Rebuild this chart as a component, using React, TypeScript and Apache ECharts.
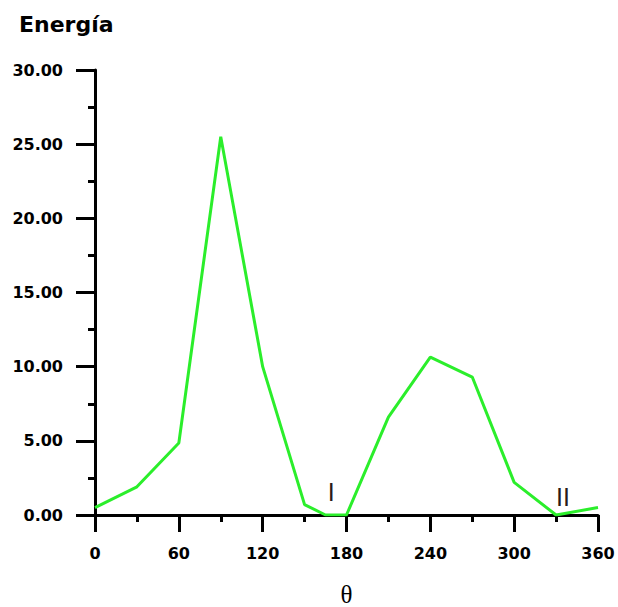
import React, { useEffect, useRef } from "react";
import * as echarts from "echarts";

const angles = [0, 30, 60, 90, 120, 150, 165, 180, 210, 240, 270, 300, 330, 360];
const energies = [0.5, 1.9, 4.85, 25.5, 10.0, 0.7, 0, 0, 6.6, 10.65, 9.3, 2.2, 0, 0.5];
const pointLabels = [
  { text: "I", x: 169, y: 1.55 },
  { text: "II", x: 335, y: 1.2 },
];

export default function App() {
  const ref = useRef<HTMLDivElement>(null);
  useEffect(() => {
    if (!ref.current) return;
    const chart = echarts.init(ref.current, null, { renderer: "svg" });
    const font = "'DejaVu Sans', Verdana, sans-serif";
    chart.setOption({
      animation: false,
      backgroundColor: "#fff",
      title: {
        text: "Energía",
        left: 14,
        top: 8,
        textStyle: { fontFamily: font, fontSize: 22, fontWeight: "bold", color: "#000" },
      },
      grid: { left: 95, top: 70, right: 20, bottom: 92, containLabel: false, outerBoundsMode: "none" },
      xAxis: {
        type: "value",
        min: 0,
        max: 360,
        interval: 60,
        name: "θ",
        nameLocation: "middle",
        nameGap: 67,
        nameTextStyle: {
          fontFamily: "'Liberation Serif', 'DejaVu Serif', serif",
          fontSize: 25,
          lineHeight: 24,
          color: "#000",
        },
        axisLine: { show: true, onZero: false, lineStyle: { color: "#000", width: 3 } },
        axisTick: { show: true, length: 17, lineStyle: { color: "#000", width: 3 } },
        minorTick: { show: true, splitNumber: 2, length: 7, lineStyle: { color: "#000", width: 3 } },
        splitLine: { show: false },
        axisLabel: { fontFamily: font, fontSize: 16, fontWeight: "bold", color: "#000", margin: 30 },
      },
      yAxis: {
        type: "value",
        min: 0,
        max: 30,
        interval: 5,
        axisLine: { show: true, onZero: false, lineStyle: { color: "#000", width: 3 } },
        axisTick: { show: true, length: 19, lineStyle: { color: "#000", width: 3 } },
        minorTick: { show: true, splitNumber: 2, length: 7, lineStyle: { color: "#000", width: 3 } },
        splitLine: { show: false },
        axisLabel: {
          fontFamily: font,
          fontSize: 16,
          fontWeight: "bold",
          color: "#000",
          margin: 32,
          formatter: (v: number) => v.toFixed(2),
        },
      },
      series: [
        {
          type: "line",
          data: angles.map((a, i) => [a, energies[i]]),
          showSymbol: false,
          symbol: "none",
          lineStyle: { color: "#2bee2b", width: 3 },
          z: 1,
          markPoint: {
            symbol: "circle",
            symbolSize: 0,
            label: {
              show: true,
              position: "inside",
              fontFamily: "'Liberation Sans', Arial, sans-serif",
              fontSize: 25,
              color: "#2a1a1a",
              formatter: (p: any) => p.name,
            },
            data: pointLabels.map((l) => ({ name: l.text, coord: [l.x, l.y] })),
          },
        },
      ],
    });
    return () => chart.dispose();
  }, []);
  return (
    <div
      ref={ref}
      style={{ position: "fixed", left: 0, top: 0, width: 618, height: 607 }}
    />
  );
}
